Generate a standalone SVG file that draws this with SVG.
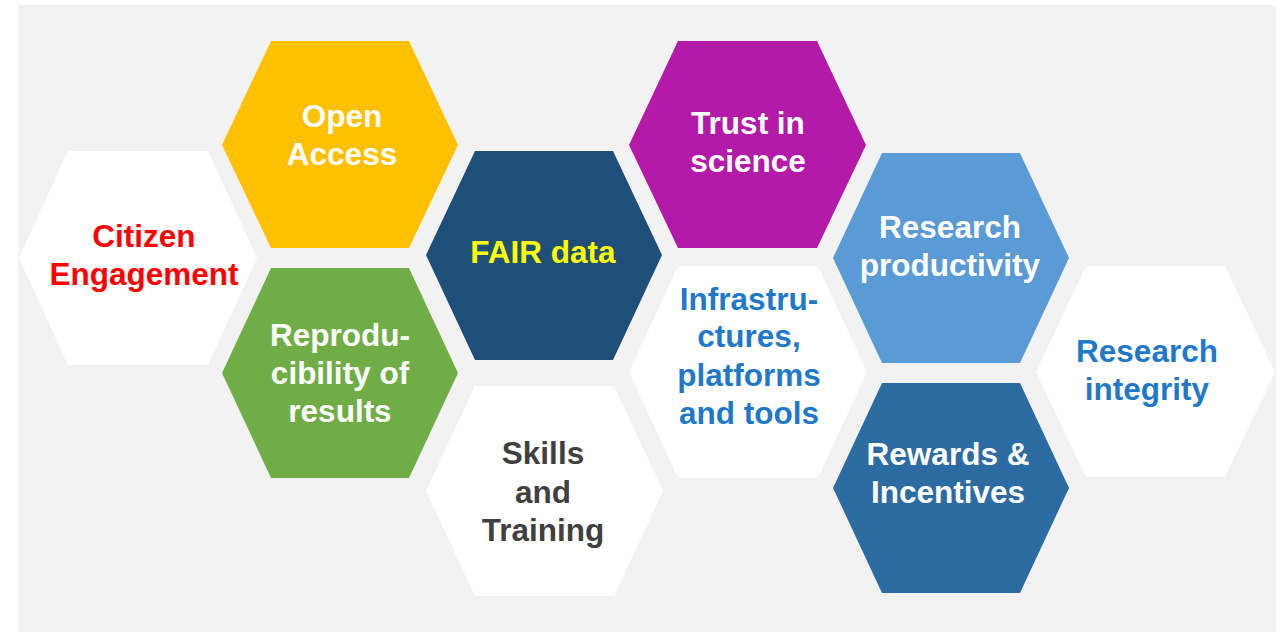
<svg xmlns="http://www.w3.org/2000/svg" width="1281" height="632" viewBox="0 0 1281 632">
<style>
text{font-family:"Liberation Sans",Arial,sans-serif;font-weight:bold;font-size:31.5px;text-anchor:middle}
.w{fill:#FFFFFF}
.hw{fill:#FFFFFF}
.blue{fill:#1F78C8}
</style>
<rect x="0" y="0" width="1281" height="632" fill="#FFFFFF"/>
<rect x="18" y="5" width="1258" height="627" fill="#F2F2F2"/>
<g id="citizen-engagement">
<polygon class="hw" points="19,258 68,151 208,151 257,258 208,365 68,365"/>
<text x="144" y="247" fill="#FF0000">Citizen</text>
<text x="144" y="285" fill="#FF0000">Engagement</text>
</g>
<g id="open-access">
<polygon fill="#FFC000" points="222,145 271,41 409,41 458,145 409,248 271,248"/>
<text x="342" y="127" class="w">Open</text>
<text x="342" y="165" class="w">Access</text>
</g>
<g id="reproducibility">
<polygon fill="#70AD47" points="222,373 271,268 409,268 458,373 409,478 271,478"/>
<text x="340" y="346" class="w">Reprodu-</text>
<text x="340" y="384" class="w">cibility of</text>
<text x="340" y="422" class="w">results</text>
</g>
<g id="fair-data">
<polygon fill="#1F4E79" points="426,255 475,151 613,151 662,255 613,360 475,360"/>
<text x="543" y="263" fill="#FFFF00">FAIR data</text>
</g>
<g id="skills-training">
<polygon class="hw" points="426,491 475,386 614,386 663,491 614,596 475,596"/>
<text x="543" y="464" fill="#404040">Skills</text>
<text x="543" y="503" fill="#404040">and</text>
<text x="543" y="541" fill="#404040">Training</text>
</g>
<g id="trust-in-science">
<polygon fill="#B41AA8" points="629,145 678,41 817,41 866,145 817,248 678,248"/>
<text x="748" y="134" class="w">Trust in</text>
<text x="748" y="172" class="w">science</text>
</g>
<g id="infrastructures">
<polygon class="hw" points="629,372 678,266 818,266 867,372 818,478 678,478"/>
<text x="749" y="310" class="blue">Infrastru-</text>
<text x="749" y="347" class="blue">ctures,</text>
<text x="749" y="386" class="blue">platforms</text>
<text x="749" y="424" class="blue">and tools</text>
</g>
<g id="research-productivity">
<polygon fill="#5B9BD5" points="833,258 882,153 1020,153 1069,258 1020,363 882,363"/>
<text x="950" y="238" class="w">Research</text>
<text x="950" y="276" class="w">productivity</text>
</g>
<g id="rewards-incentives">
<polygon fill="#2D6BA3" points="833,488 882,383 1020,383 1069,488 1020,593 882,593"/>
<text x="948" y="465" class="w">Rewards &amp;</text>
<text x="948" y="503" class="w">Incentives</text>
</g>
<g id="research-integrity">
<polygon class="hw" points="1036,372 1086,266 1225,266 1275,372 1225,477 1086,477"/>
<text x="1147" y="362" class="blue">Research</text>
<text x="1147" y="400" class="blue">integrity</text>
</g>
<g id="connectors"></g>
</svg>
